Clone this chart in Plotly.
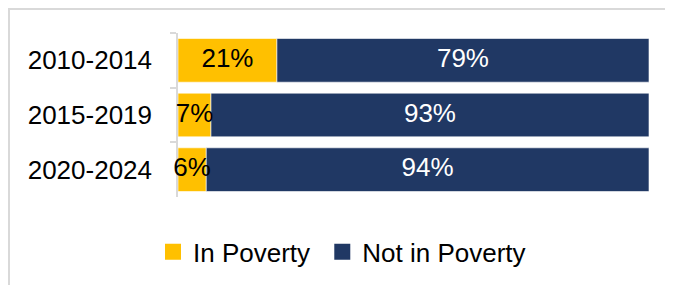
import plotly.graph_objects as go

categories = ["2010-2014", "2015-2019", "2020-2024"]
in_poverty = [0.21, 0.07, 0.06]
not_in_poverty = [0.79, 0.93, 0.94]
in_labels = ["21%", "7%", "6%"]
not_labels = ["79%", "93%", "94%"]
legend_names = ["In Poverty\u00a0", "Not in Poverty"]

YELLOW = "#FFC000"
NAVY = "#203864"
FONT = "Liberation Sans, Arial, sans-serif"

fig = go.Figure()
fig.add_trace(go.Bar(
    y=categories, x=in_poverty, orientation="h",
    name="In Poverty", marker=dict(color=YELLOW, line=dict(color="rgba(255,255,255,0.6)", width=1)),
    showlegend=False, hoverinfo="skip",
))
fig.add_trace(go.Bar(
    y=categories, x=not_in_poverty, base=in_poverty, orientation="h",
    name="Not in Poverty", marker=dict(color=NAVY, line=dict(color="rgba(255,255,255,0.6)", width=1)),
    showlegend=False, hoverinfo="skip",
))
# data labels centred in each segment
fig.add_trace(go.Scatter(
    y=categories, x=[v / 2 for v in in_poverty], mode="text", text=in_labels,
    textposition="middle center", textfont=dict(color="black", size=26, family=FONT),
    cliponaxis=False, showlegend=False, hoverinfo="skip",
))
fig.add_trace(go.Scatter(
    y=categories, x=[b + v / 2 for b, v in zip(in_poverty, not_in_poverty)], mode="text",
    text=not_labels, textposition="middle center", textfont=dict(color="white", size=26, family=FONT),
    cliponaxis=False, showlegend=False, hoverinfo="skip",
))
# legend entries
for nm, col in zip(legend_names, [YELLOW, NAVY]):
    fig.add_trace(go.Scatter(
        x=[None], y=[None], mode="markers", name=nm,
        marker=dict(symbol="square", size=16, color=col), hoverinfo="skip",
    ))

fig.update_layout(
    width=673, height=285,
    margin=dict(l=170, r=32, t=25, b=96),
    barmode="overlay", bargap=0.2,
    plot_bgcolor="white", paper_bgcolor="white",
    font=dict(family=FONT, size=26, color="black"),
    showlegend=True,
    legend=dict(orientation="h", x=(145 - 170) / 471, xanchor="left", y=-0.335, yanchor="middle",
                font=dict(size=26, color="black"), bgcolor="rgba(0,0,0,0)"),
    xaxis=dict(range=[0, 1], visible=False, fixedrange=True),
    yaxis=dict(autorange="reversed", showline=True, linecolor="#d9d9d9", linewidth=1.5,
               ticks="outside", tickson="boundaries", ticklen=6, tickcolor="#d9d9d9",
               tickwidth=1.5, ticklabelstandoff=19, showgrid=False, fixedrange=True,
               layer="below traces",
               tickfont=dict(size=26, color="black", family=FONT)),
    shapes=[dict(type="rect", xref="paper", yref="paper",
                 x0=(1 - 170) / 471, x1=1.2, y0=-0.8, y1=(164 + 25 - 1) / 164,
                 line=dict(color="#d9d9d9", width=2), fillcolor="rgba(0,0,0,0)", layer="below")],
)

fig.write_html("out.html")
